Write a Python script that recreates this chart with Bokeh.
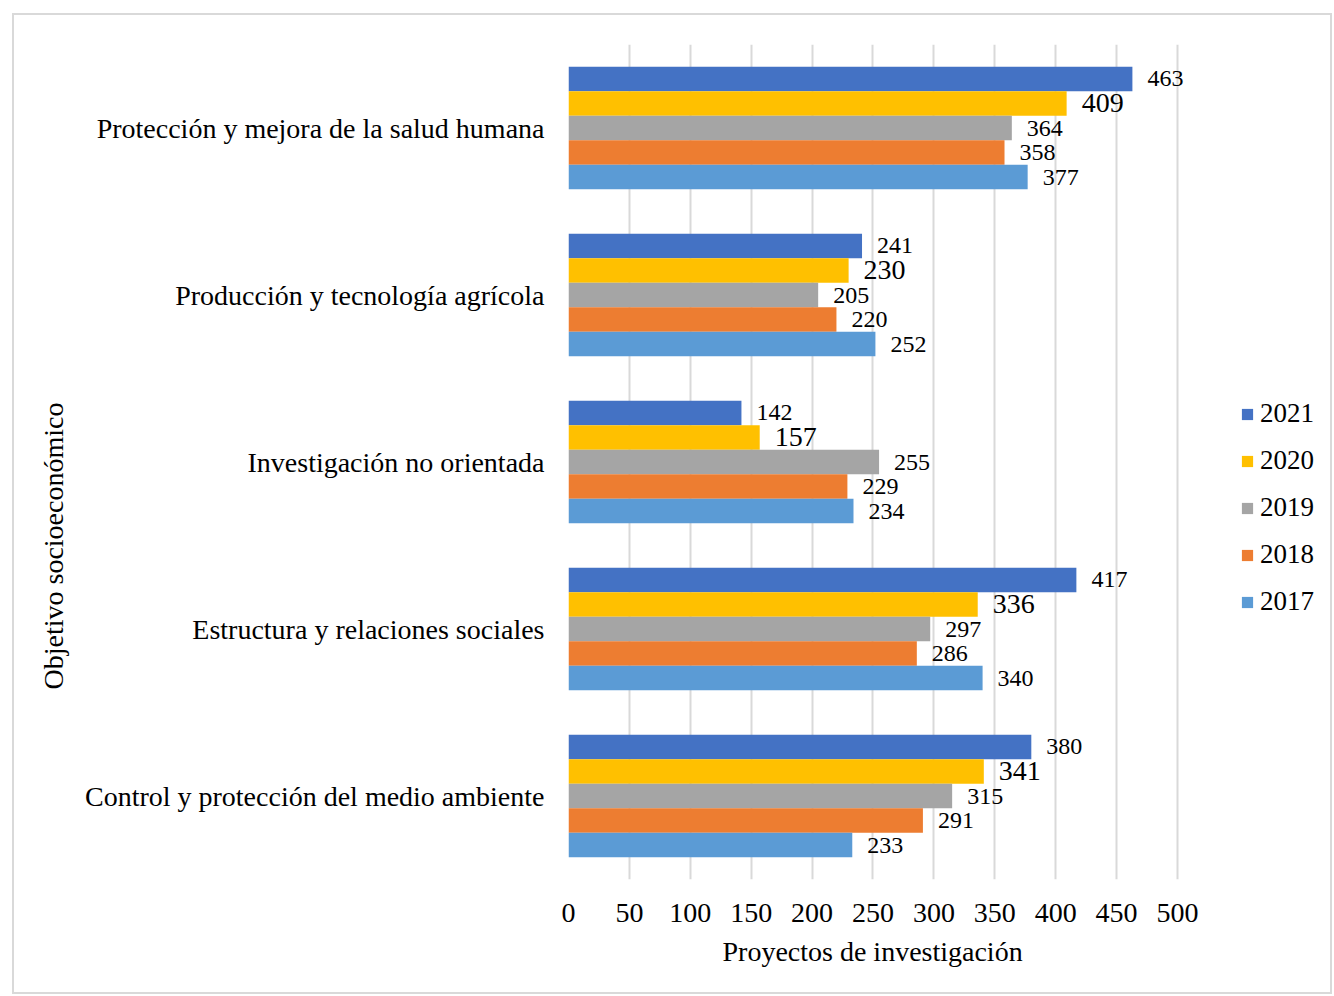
from bokeh.plotting import figure
from bokeh.models import FactorRange, Range1d, ColumnDataSource, FixedTicker, Legend, LegendItem, Title
from bokeh.transform import dodge
from bokeh.core.properties import value
from bokeh.embed import file_html
from bokeh.resources import INLINE

categories = ["Protección y mejora de la salud humana",
              "Producción y tecnología agrícola",
              "Investigación no orientada",
              "Estructura y relaciones sociales",
              "Control y protección del medio ambiente"]
years = ["2021", "2020", "2019", "2018", "2017"]
v2021 = [463, 241, 142, 417, 380]
v2020 = [409, 230, 157, 336, 341]
v2019 = [364, 205, 255, 297, 315]
v2018 = [358, 220, 229, 286, 291]
v2017 = [377, 252, 234, 340, 233]
series = [v2021, v2020, v2019, v2018, v2017]
x_ticks = [0, 50, 100, 150, 200, 250, 300, 350, 400, 450, 500]
colors = ["#4472C4", "#FFC000", "#A5A5A5", "#ED7D31", "#5B9BD5"]
offsets = [0.294, 0.147, 0.0, -0.147, -0.294]
label_sizes = ["24px", "28px", "24px", "24px", "24px"]

FONT = "Liberation Serif"

p = figure(frame_width=750, frame_height=835,
           x_range=Range1d(0, 615.8),
           y_range=FactorRange(factors=list(reversed(categories))),
           output_backend="svg", toolbar_location=None,
           min_border_left=554, min_border_right=12,
           min_border_top=29, min_border_bottom=113)
p.styles = {"border": "2px solid #d9d9d9", "margin-left": "12px", "margin-top": "13px"}
p.outline_line_color = None

items = []
for yr, vals, col, off, fs in zip(years, series, colors, offsets, label_sizes):
    src = ColumnDataSource(dict(cat=categories, val=vals, lab=[str(v) for v in vals]))
    r = p.hbar(y=dodge("cat", off, range=p.y_range), right="val", left=0, height=0.147,
               source=src, fill_color=col, line_color=None)
    p.text(x="val", y=dodge("cat", off, range=p.y_range), text="lab", source=src,
           x_offset=15, text_baseline="middle", text_align="left",
           text_font=value(FONT), text_font_size=fs, text_color="#000000")
    items.append(LegendItem(label=yr, renderers=[r]))

legend = Legend(items=items, location=(672, 262), padding=0, margin=0,
                glyph_width=14, glyph_height=14, label_height=30, spacing=16,
                label_standoff=6, label_text_font=FONT, label_text_font_size="27px",
                label_text_color="#000000", border_line_color=None,
                background_fill_alpha=0)
p.add_layout(legend)

p.xaxis.ticker = FixedTicker(ticks=x_ticks)
p.xgrid.ticker = FixedTicker(ticks=x_ticks)
p.xgrid.grid_line_color = "#d9d9d9"
p.xgrid.grid_line_width = 2
p.ygrid.grid_line_color = None

for ax in (p.xaxis[0], p.yaxis[0]):
    ax.axis_line_color = None
    ax.major_tick_line_color = None
    ax.minor_tick_line_color = None
    ax.major_label_text_font = FONT
    ax.major_label_text_font_size = "28px"
    ax.major_label_text_color = "#000000"

p.xaxis.major_label_standoff = 18
p.yaxis.major_label_standoff = 18

xtitle = Title(text="Proyectos de investigación", align="left", offset=154,
               text_font=FONT, text_font_size="28px", text_font_style="normal",
               text_color="#000000", standoff=19)
p.add_layout(xtitle, "below")

ytitle = Title(text="Objetivo socioeconómico", align="left", offset=190,
               text_font=FONT, text_font_size="28px", text_font_style="normal",
               text_color="#000000", standoff=25)
p.add_layout(ytitle, "left")

open("out.html", "w").write(file_html(p, INLINE))
